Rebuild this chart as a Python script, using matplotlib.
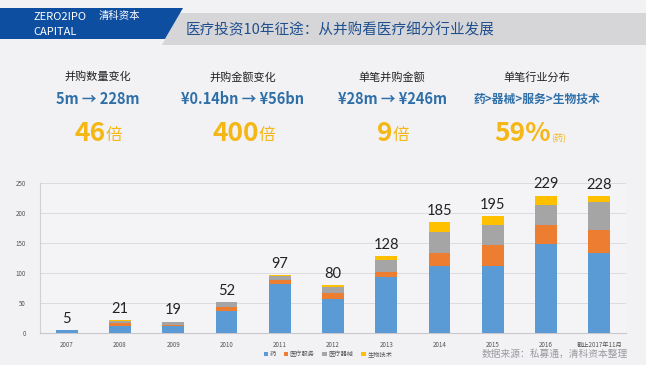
import matplotlib
matplotlib.use("Agg")
import matplotlib.pyplot as plt
from matplotlib.patches import Polygon

plt.rcParams['font.family'] = ['Noto Sans CJK SC', 'DejaVu Sans']

# data
years = ["2007", "2008", "2009", "2010", "2011", "2012", "2013", "2014", "2015", "2016", "截止2017年11月"]
drug = [5, 12, 12, 37, 82, 56, 93, 112, 112, 148, 134]
service = [0, 4, 1, 7, 6, 11, 9, 22, 35, 32, 38]
device = [0, 4, 6, 7, 7, 9, 20, 35, 33, 33, 46]
biotech = [0, 1, 0, 1, 2, 4, 6, 16, 15, 16, 10]
totals = [5, 21, 19, 52, 97, 80, 128, 185, 195, 229, 228]
series_names = ["药", "医疗服务", "医疗器械", "生物技术"]
colors = ["#5b9bd5", "#ed7d31", "#a5a5a5", "#ffc000"]

stat_titles = ["并购数量变化", "并购金额变化", "单笔并购金额", "单笔行业分布"]
stat_ranges = ["5m → 228m", "¥0.14bn → ¥56bn", "¥28m → ¥246m", "药>器械>服务>生物技术"]
stat_big = ["46", "400", "9", "59%"]
stat_unit = ["倍", "倍", "倍", "(药)"]

W, H = 646, 365
fig = plt.figure(figsize=(W / 100, H / 100), dpi=100)
fig.patch.set_facecolor("#f2f2f5")


def px(x, y):
    return (x / W, 1 - y / H)


# header
gray_band = Polygon([px(180, 13), px(646, 13), px(646, 45), px(162, 45)],
                    closed=True, transform=fig.transFigure, facecolor="#d6d6d8", edgecolor="none")
blue_band = Polygon([px(0, 8), px(183, 8), px(165, 39), px(0, 39)],
                    closed=True, transform=fig.transFigure, facecolor="#0d4ea0", edgecolor="none")
fig.patches.extend([gray_band, blue_band])
fig.text(*px(33, 17), "ZERO2IPO", color="white", fontsize=8, va="center", ha="left")
fig.text(*px(33, 32), "CAPITAL", color="white", fontsize=8, va="center", ha="left")
fig.text(*px(99, 16), "清科资本", color="white", fontsize=7.5, va="center", ha="left")
fig.text(*px(186, 30), "医疗投资10年征途：从并购看医疗细分行业发展", color="#1f4f8f",
         fontsize=10.5, va="center", ha="left")

# stats
centers = [98, 243, 392, 537]
splits = [106, 259, 393, 551]
for i in range(4):
    fig.text(*px(centers[i], 77), stat_titles[i], fontsize=8, color="#222222", ha="center", va="center")
    fs = 8.5 if i == 3 else 10.5
    fig.text(*px(centers[i], 99), stat_ranges[i], fontsize=fs, color="#2f6fa8",
             fontweight="bold", ha="center", va="center")
    fig.text(*px(splits[i], 141), stat_big[i], fontsize=19, color="#f4b715",
             fontweight="bold", ha="right", va="baseline")
    ufs = 6.5 if i == 3 else 12
    fig.text(*px(splits[i], 140), stat_unit[i], fontsize=ufs, color="#f4b715",
             ha="left", va="baseline")

# chart
ax = fig.add_axes([40 / W, 1 - 333 / H, 586 / W, 150 / H])
ax.set_facecolor("#f4f4f7")
x = range(len(years))
bottom = [0] * len(years)
for vals, name, c in zip([drug, service, device, biotech], series_names, colors):
    ax.bar(x, vals, width=0.41, bottom=bottom, color=c, label=name, zorder=3)
    bottom = [b + v for b, v in zip(bottom, vals)]

for i, t in enumerate(totals):
    ax.annotate(str(t), (i, t), xytext=(0, 3), textcoords="offset points",
                ha="center", va="bottom", fontsize=10.5, color="#222222",
                family=["Lato", "DejaVu Sans"])

ax.set_xlim(-0.5, len(years) - 0.5)
ax.set_ylim(0, 250)
ax.set_yticks(range(0, 251, 50))
ax.set_xticks(list(x))
ax.set_xticklabels(years)
ax.tick_params(axis="both", length=0, labelsize=4.5, colors="#555555", pad=6)
ax.tick_params(axis="y", pad=10)
ax.grid(axis="y", color="#dcdce0", linewidth=0.7, zorder=0)
for s in ["top", "right"]:
    ax.spines[s].set_visible(False)
ax.spines["left"].set_color("#d0d0d4")
ax.spines["bottom"].set_color("#c8c8cc")

fig.legend(loc="center", bbox_to_anchor=px(328, 354), ncol=4, fontsize=4.5,
           frameon=False, handlelength=0.7, handleheight=0.7, handletextpad=0.3,
           columnspacing=1.2, labelcolor="#555555")
fig.text(*px(628, 354), "数据来源：私募通，清科资本整理", fontsize=7, color="#9a9aa0",
         style="italic", ha="right", va="center")

fig.savefig("out.png", dpi=100, facecolor=fig.get_facecolor())
